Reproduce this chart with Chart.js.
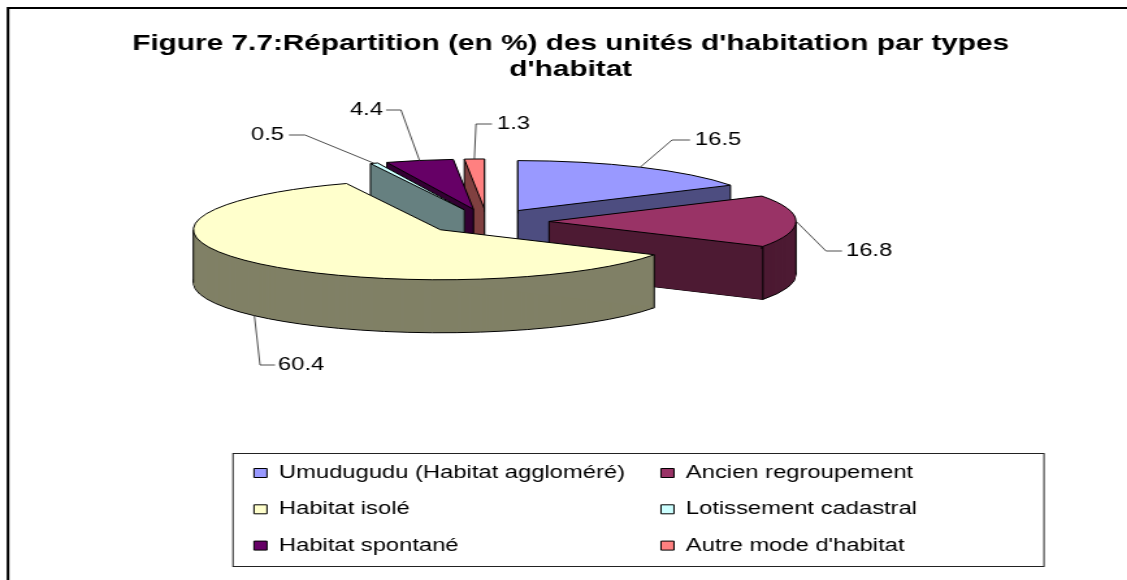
<!DOCTYPE html>
<html><head><meta charset="utf-8">
<style>html,body{margin:0;padding:0;background:#fff;overflow:hidden;width:1127px;height:580px}
#w{position:absolute;left:0;top:0;transform-origin:0 0}</style>
<script src="https://cdn.jsdelivr.net/npm/chart.js@4/dist/chart.umd.min.js"></script>
</head><body><div id="w"><canvas id="c"></canvas></div>
<script>
const categories=["Umudugudu (Habitat aggloméré)","Ancien regroupement","Habitat isolé","Lotissement cadastral","Habitat spontané","Autre mode d'habitat"];
const values=[16.5,16.8,60.4,0.5,4.4,1.3];
const topColors=["#9999FF","#993366","#FFFFCC","#CCFFFF","#660066","#FF8080"];
const wallColors=["#4D4D80","#4D1A33","#808066","#668080","#330033","#804040"];
const titleLines=["Figure 7.7:Répartition (en %) des unités d'habitation par types","d'habitat"];
const legendOrder=[0,2,4,1,3,5];
const paintOrder=[0,5,4,3,1,2];

const S=1.3;                 // horizontal stretch of the whole picture
const X=px=>px/S;
const W=Math.round(1142/S), H=580;
const RX=247, KY=50/(RX/S), EXPLODE=X(62), DEPTH=53;
const CX=X(487), CY=221.5;
// leader: [elbow x, elbow y, end x, text x, text align]; y of text = elbow y
const leaders=[
 [672,140,690,695,'left'],
 [826,251,842,846,'left'],
 [260,365,275,278,'left'],
 [305,135,289,284,'right'],
 [401,110,386,383,'right'],
 [476,124,492,497,'left']];
const FONT="'Liberation Sans', Arial, sans-serif";

const cv=document.getElementById('c');
cv.width=W;cv.height=H;

function geom(arc){
  const mid=(arc.startAngle+arc.endAngle)/2;
  return {mid,x:CX+EXPLODE*Math.cos(mid),y:CY+EXPLODE*KY*Math.sin(mid),r:arc.outerRadius};
}
function face(ctx,g,arc,dy){
  ctx.beginPath();
  ctx.moveTo(g.x,g.y+dy);
  ctx.ellipse(g.x,g.y+dy,g.r,g.r*KY,0,arc.startAngle,arc.endAngle);
  ctx.closePath();
}
function rim(g,a){return [g.x+g.r*Math.cos(a),g.y+g.r*KY*Math.sin(a)];}
function fillArc(ctx,arc,g,dy,color){
  const o=arc.options;
  const t=Object.create(o);
  Object.defineProperty(t,'backgroundColor',{value:color});
  Object.defineProperty(t,'borderWidth',{value:0});
  arc.options=t;
  ctx.save();
  ctx.translate(g.x,g.y+dy);ctx.scale(1,KY);ctx.translate(-arc.x,-arc.y);
  arc.draw(ctx);
  ctx.restore();
  arc.options=o;
}
const pie3d={
  id:'pie3d',
  beforeDraw(chart){
    const c=chart.ctx;
    c.save();
    c.fillStyle='#fff';c.fillRect(0,0,chart.width,chart.height);
    c.strokeStyle='#000';c.lineWidth=2;
    c.beginPath();c.moveTo(X(8),H);c.lineTo(X(8),8);c.lineTo(chart.width,8);c.stroke();
    c.strokeStyle='#222';c.lineWidth=1;
    c.strokeRect(X(233),453.5,X(1044-233),113);
    c.restore();
  },
  afterLayout(chart){
    const l=chart.legend;
    const pad=l.options.labels.padding;
    l.left=X(254)-pad;l.right=X(1044);l.top=445.85;l.bottom=580;
    const col={width:X(661-254)-pad,height:134};
    l.columnSizes=[col,col];
  },
  beforeDatasetDraw(chart){
    const c=chart.ctx,arcs=chart.getDatasetMeta(0).data;
    c.save();c.strokeStyle='#000';c.lineWidth=1;
    paintOrder.forEach(i=>{
      const arc=arcs[i],g=geom(arc);
      face(c,g,arc,DEPTH);fillArc(c,arc,g,DEPTH,wallColors[i]);c.stroke();
      for(let d=DEPTH-1;d>0;d--)fillArc(c,arc,g,d,wallColors[i]);
      // solid radial faces so that thin slices stay opaque
      c.fillStyle=wallColors[i];
      [arc.startAngle,arc.endAngle].forEach(a=>{
        const p=rim(g,a);
        c.beginPath();c.moveTo(g.x,g.y);c.lineTo(p[0],p[1]);c.lineTo(p[0],p[1]+DEPTH);c.lineTo(g.x,g.y+DEPTH);c.closePath();c.fill();
      });
      // vertical edges (a rear-left end corner is hidden behind its own wall)
      const pts=[rim(g,arc.startAngle)];
      if(!(Math.cos(arc.endAngle)<0&&Math.sin(arc.endAngle)<0))pts.push(rim(g,arc.endAngle));
      const has=a=>a>arc.startAngle&&a<arc.endAngle;
      if(!has(Math.PI/2))pts.push([g.x,g.y]);
      [0,Math.PI,2*Math.PI].forEach(a=>{if(has(a))pts.push(rim(g,a));});
      c.beginPath();
      pts.forEach(p=>{c.moveTo(p[0],p[1]);c.lineTo(p[0],p[1]+DEPTH);});
      c.stroke();
      fillArc(c,arc,g,0,topColors[i]);
      face(c,g,arc,0);c.stroke();
    });
    c.restore();
    return false;
  },
  afterDatasetsDraw(chart){
    const c=chart.ctx,arcs=chart.getDatasetMeta(0).data;
    c.save();
    c.strokeStyle='#222';c.lineWidth=.8;c.fillStyle='#000';
    c.font="18.3px "+FONT;c.textBaseline='middle';
    arcs.forEach((arc,i)=>{
      const g=geom(arc),L=leaders[i];
      const p=rim(g,g.mid);
      if(Math.sin(g.mid)>0.3)p[1]+=DEPTH;
      c.beginPath();c.moveTo(p[0],p[1]);c.lineTo(X(L[0]),L[1]);c.lineTo(X(L[2]),L[1]);c.stroke();
      c.textAlign=L[4];
      c.fillText(String(values[i]),X(L[3]),L[1]);
    });
    c.restore();
  }
};
new Chart(cv,{
  type:'pie',
  data:{labels:categories,datasets:[{data:values,backgroundColor:topColors,borderColor:'#000',borderWidth:1}]},
  options:{
    responsive:false,animation:false,radius:RX/S,
    layout:{padding:0},
    events:[],
    plugins:{
      tooltip:{enabled:false},
      title:{display:true,text:titleLines,color:'#000',align:'center',
        font:{family:FONT,size:22.9,weight:'bold',lineHeight:1.135},padding:{top:31,bottom:0}},
      legend:{position:'chartArea',align:'start',
        labels:{font:{family:FONT,size:18.3},color:'#000',boxWidth:10,boxHeight:9,padding:18,
          sort:(a,b)=>legendOrder.indexOf(a.index)-legendOrder.indexOf(b.index)}}
    }
  },
  plugins:[pie3d]
});
document.getElementById('w').style.transform='scaleX('+S+')';
</script></body></html>
